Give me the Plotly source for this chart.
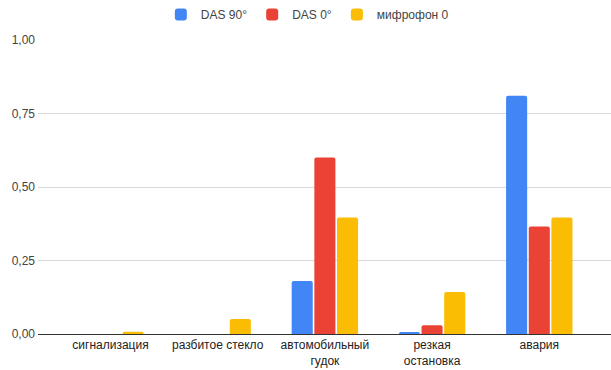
import plotly.graph_objects as go

categories = ["сигнализация", "разбитое стекло", "автомобильный<br>гудок",
              "резкая<br>остановка", "авария"]
das_90 = [0.0, 0.0, 0.18, 0.007, 0.81]
das_0 = [0.0, 0.0, 0.60, 0.03, 0.366]
mic_0 = [0.008, 0.051, 0.396, 0.143, 0.396]

series = [
    ("DAS 90°", das_90, "#4285F4"),
    ("DAS 0°", das_0, "#EA4335"),
    ("мифрофон 0", mic_0, "#FBBC04"),
]

fig = go.Figure()
for name, vals, color in series:
    fig.add_trace(go.Bar(
        x=list(range(len(categories))), y=vals, name=name,
        marker=dict(color=color, cornerradius=2, line=dict(width=0)),
    ))

font_family = "Arial, 'Liberation Sans', sans-serif"
fig.update_layout(
    width=611, height=370,
    margin=dict(l=38, r=0, t=40, b=36),
    paper_bgcolor="white", plot_bgcolor="white",
    barmode="group", bargap=0.366, bargroupgap=0.07,
    separators=", ",
    font=dict(family=font_family, size=12, color="#444444"),
    showlegend=True,
    legend=dict(orientation="h", x=0.503, xanchor="center", y=1.0,
                yanchor="top", yref="container", xref="container",
                font=dict(size=12, color="#444444"),
                itemclick=False, traceorder="normal"),
    xaxis=dict(
        tickmode="array", tickvals=list(range(len(categories))),
        ticktext=categories, range=[-0.676, 4.669],
        showgrid=False, zeroline=False, showline=True,
        linecolor="#333333", linewidth=1,
        tickfont=dict(size=12, color="#222222"),
        ticks="", fixedrange=True,
    ),
    yaxis=dict(
        range=[0, 1], tickvals=[0, 0.25, 0.5, 0.75, 1.0],
        tickformat=".2f", showgrid=True, gridcolor="#d9d9d9", gridwidth=1,
        zeroline=False, showline=False, ticks="",
        tickfont=dict(size=12, color="#444444"),
        ticklabelstandoff=2, fixedrange=True,
    ),
)

fig.write_html("out.html")
